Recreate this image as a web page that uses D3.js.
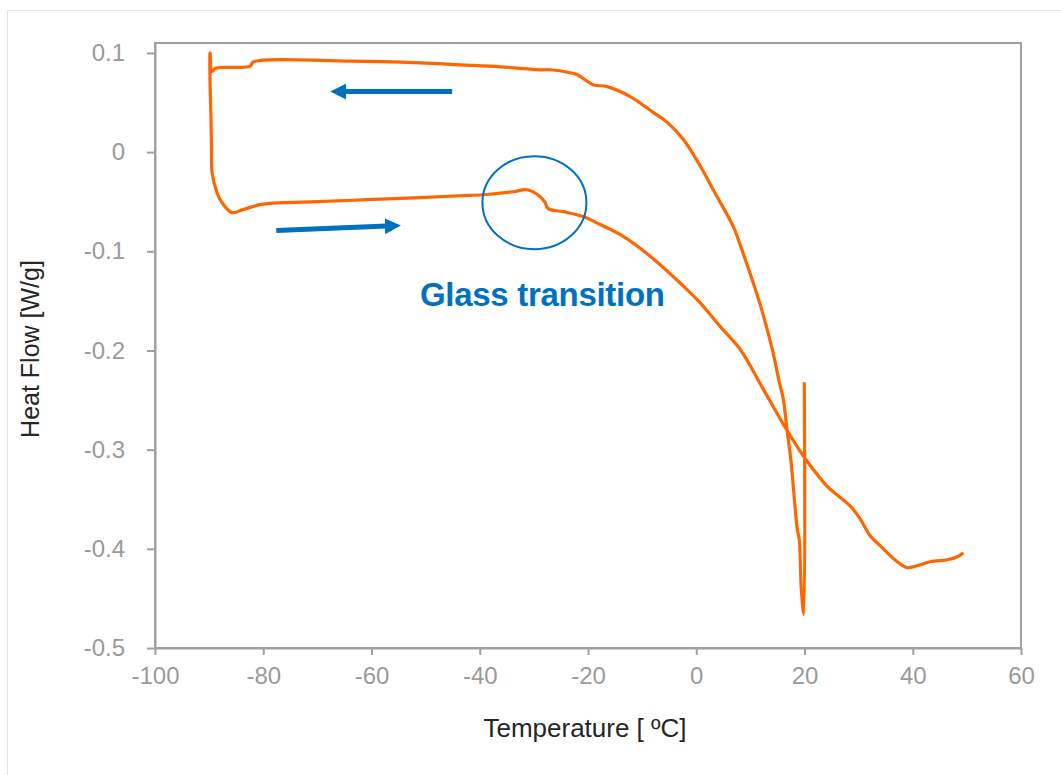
<!DOCTYPE html>
<html>
<head>
<meta charset="utf-8">
<script src="https://cdn.jsdelivr.net/npm/d3@7"></script>
<style>
  body { margin: 0; background: #fff; }
  text { font-family: "Liberation Sans", Arial, sans-serif; }
</style>
</head>
<body>
<div id="chart"></div>
<script>
// DSC trace: temperature (°C) and heat flow (W/g), in recorded order
const temperature = [
    19.96, 19.87, 19.41, 19.04, 18.67, 17.47, 16.82, 16.08, 15.35, 14.05, 11.83,
    9.98, 7.76, 6.84, 3.14, 0.74, -2.40, -5.36, -7.95, -12.2, -16.45,
    -19.04, -22.0, -23.3, -26.99, -28.8, -36.2, -43.6, -51.0, -63.96, -81.9,
    -82.4, -87.06, -88.9, -89.46, -89.83, -89.83, -89.65, -89.56, -89.46, -88.54,
    -87.62, -85.77, -83.73, -80.59, -76.34, -70.06, -60.81, -51.02, -43.62, -39.37,
    -33.83, -31.24, -28.84, -27.91, -27.36, -24.58, -20.89, -17.74, -13.49, -8.50,
    -2.40, 0.74, 4.44, 8.13, 12.38, 16.82, 20.52, 24.21, 28.47, 30.31,
    32.16, 34.01, 37.15, 39.0, 40.85, 43.25, 46.40, 48.24, 49.35
];
const heatFlow = [
    -0.232, -0.466, -0.441, -0.391, -0.380, -0.310, -0.282, -0.249, -0.232, -0.199, -0.154,
    -0.123, -0.088, -0.075, -0.038, -0.014, 0.013, 0.030, 0.040, 0.056, 0.066,
    0.068, 0.078, 0.080, 0.083, 0.083, 0.086, 0.088, 0.090, 0.0917, 0.0907,
    0.0867, 0.0854, 0.0844, 0.0813, 0.100, 0.071, 0.033, 0.003, -0.020, -0.041,
    -0.051, -0.061, -0.058, -0.053, -0.051, -0.050, -0.048, -0.046, -0.044, -0.043,
    -0.040, -0.038, -0.045, -0.051, -0.057, -0.060, -0.065, -0.073, -0.085, -0.105,
    -0.135, -0.152, -0.176, -0.199, -0.239, -0.281, -0.312, -0.337, -0.357, -0.370,
    -0.387, -0.397, -0.413, -0.419, -0.417, -0.413, -0.411, -0.408, -0.404
];

const xTicks = [-100, -80, -60, -40, -20, 0, 20, 40, 60];
const yTicks = [0.1, 0, -0.1, -0.2, -0.3, -0.4, -0.5];

// annotations (data coordinates)
const coolArrow = [[-45.1, 0.061], [-68.0, 0.061]];
const heatArrow = [[-77.6, -0.079], [-54.2, -0.074]];
const glassCircle = { t: -29.9, hf: -0.051 };
const glassLabel = "Glass transition";

const W = 1061, H = 775;
const margin = { top: 43, right: 40, bottom: 127, left: 155 };
const width = W - margin.left - margin.right,
      height = H - margin.top - margin.bottom;

const svg = d3.select("#chart").append("svg")
    .attr("width", W)
    .attr("height", H);

// outer chart-area border
svg.append("rect")
    .attr("x", 7.5).attr("y", 10.5)
    .attr("width", W).attr("height", H)
    .attr("fill", "none")
    .attr("stroke", "#e3e3e3");

const g = svg.append("g")
    .attr("transform", `translate(${margin.left},${margin.top})`);

const x = d3.scaleLinear().domain([-100, 60]).range([0, width]);
const y = d3.scaleLinear().domain([-0.5, 0.11]).range([height, 0]);

const axisColor = "#a0a0a0";
// plain hyphen for negatives, like the original
const fmt = d => String(+d.toFixed(1));

// plot frame
g.append("rect")
    .attr("width", width).attr("height", height)
    .attr("fill", "none")
    .attr("stroke", axisColor)
    .attr("stroke-width", 2);

const xAxis = g.append("g")
    .attr("transform", `translate(0,${height})`)
    .call(d3.axisBottom(x).tickValues(xTicks).tickSize(7).tickPadding(12).tickSizeOuter(0).tickFormat(fmt));

const yAxis = g.append("g")
    .call(d3.axisLeft(y).tickValues(yTicks).tickSize(8).tickPadding(22).tickSizeOuter(0).tickFormat(fmt));

[xAxis, yAxis].forEach(a => {
    a.select(".domain").attr("stroke", axisColor).attr("stroke-width", 2);
    a.selectAll(".tick line").attr("stroke", axisColor).attr("stroke-width", 2);
    a.selectAll(".tick text")
        .attr("fill", "#9a9a9a")
        .attr("font-size", "24px")
        .style("font-family", "'Liberation Sans', Arial, sans-serif");
});

// curve
const pts = temperature.map((t, i) => [t, heatFlow[i]]);
const line = d3.line()
    .curve(d3.curveCatmullRom.alpha(0.5))
    .x(d => x(d[0]))
    .y(d => y(d[1]));

g.append("path")
    .datum(pts)
    .attr("d", line)
    .attr("fill", "none")
    .attr("stroke", "#ff6600")
    .attr("stroke-width", 3.2)
    .attr("stroke-linejoin", "round");

// annotations
const blue = "#0070c0";
svg.append("defs").append("marker")
    .attr("id", "head")
    .attr("markerUnits", "userSpaceOnUse")
    .attr("viewBox", "0 0 16 16")
    .attr("refX", 2).attr("refY", 8)
    .attr("markerWidth", 16).attr("markerHeight", 16)
    .attr("orient", "auto")
    .append("path")
    .attr("d", "M0,0 L16,8 L0,16 Z")
    .attr("fill", blue);

[coolArrow, heatArrow].forEach(a => {
    const x1 = x(a[0][0]), y1 = y(a[0][1]), x2 = x(a[1][0]), y2 = y(a[1][1]);
    const len = Math.hypot(x2 - x1, y2 - y1);
    const k = (len - 16) / len;
    g.append("line")
        .attr("x1", x1).attr("y1", y1)
        .attr("x2", x1 + (x2 - x1) * k).attr("y2", y1 + (y2 - y1) * k)
        .attr("stroke", blue)
        .attr("stroke-width", 5)
        .attr("marker-end", "url(#head)");
});

g.append("ellipse")
    .attr("cx", x(glassCircle.t))
    .attr("cy", y(glassCircle.hf))
    .attr("rx", 52).attr("ry", 46.5)
    .attr("fill", "none")
    .attr("stroke", blue)
    .attr("stroke-width", 2);

svg.append("text")
    .attr("x", 420).attr("y", 306)
    .attr("fill", blue)
    .attr("font-size", "33px")
    .attr("font-weight", "bold")
    .attr("letter-spacing", "-0.3px")
    .text(glassLabel);

// axis titles
svg.append("text")
    .attr("x", margin.left + width / 2 - 3)
    .attr("y", 737)
    .attr("text-anchor", "middle")
    .attr("font-size", "26px")
    .attr("fill", "#262626")
    .text("Temperature [ \u00baC]");

svg.append("text")
    .attr("transform", "rotate(-90)")
    .attr("x", -349)
    .attr("y", 39)
    .attr("text-anchor", "middle")
    .attr("font-size", "25px")
    .attr("fill", "#262626")
    .text("Heat Flow [W/g]");
</script>
</body>
</html>
